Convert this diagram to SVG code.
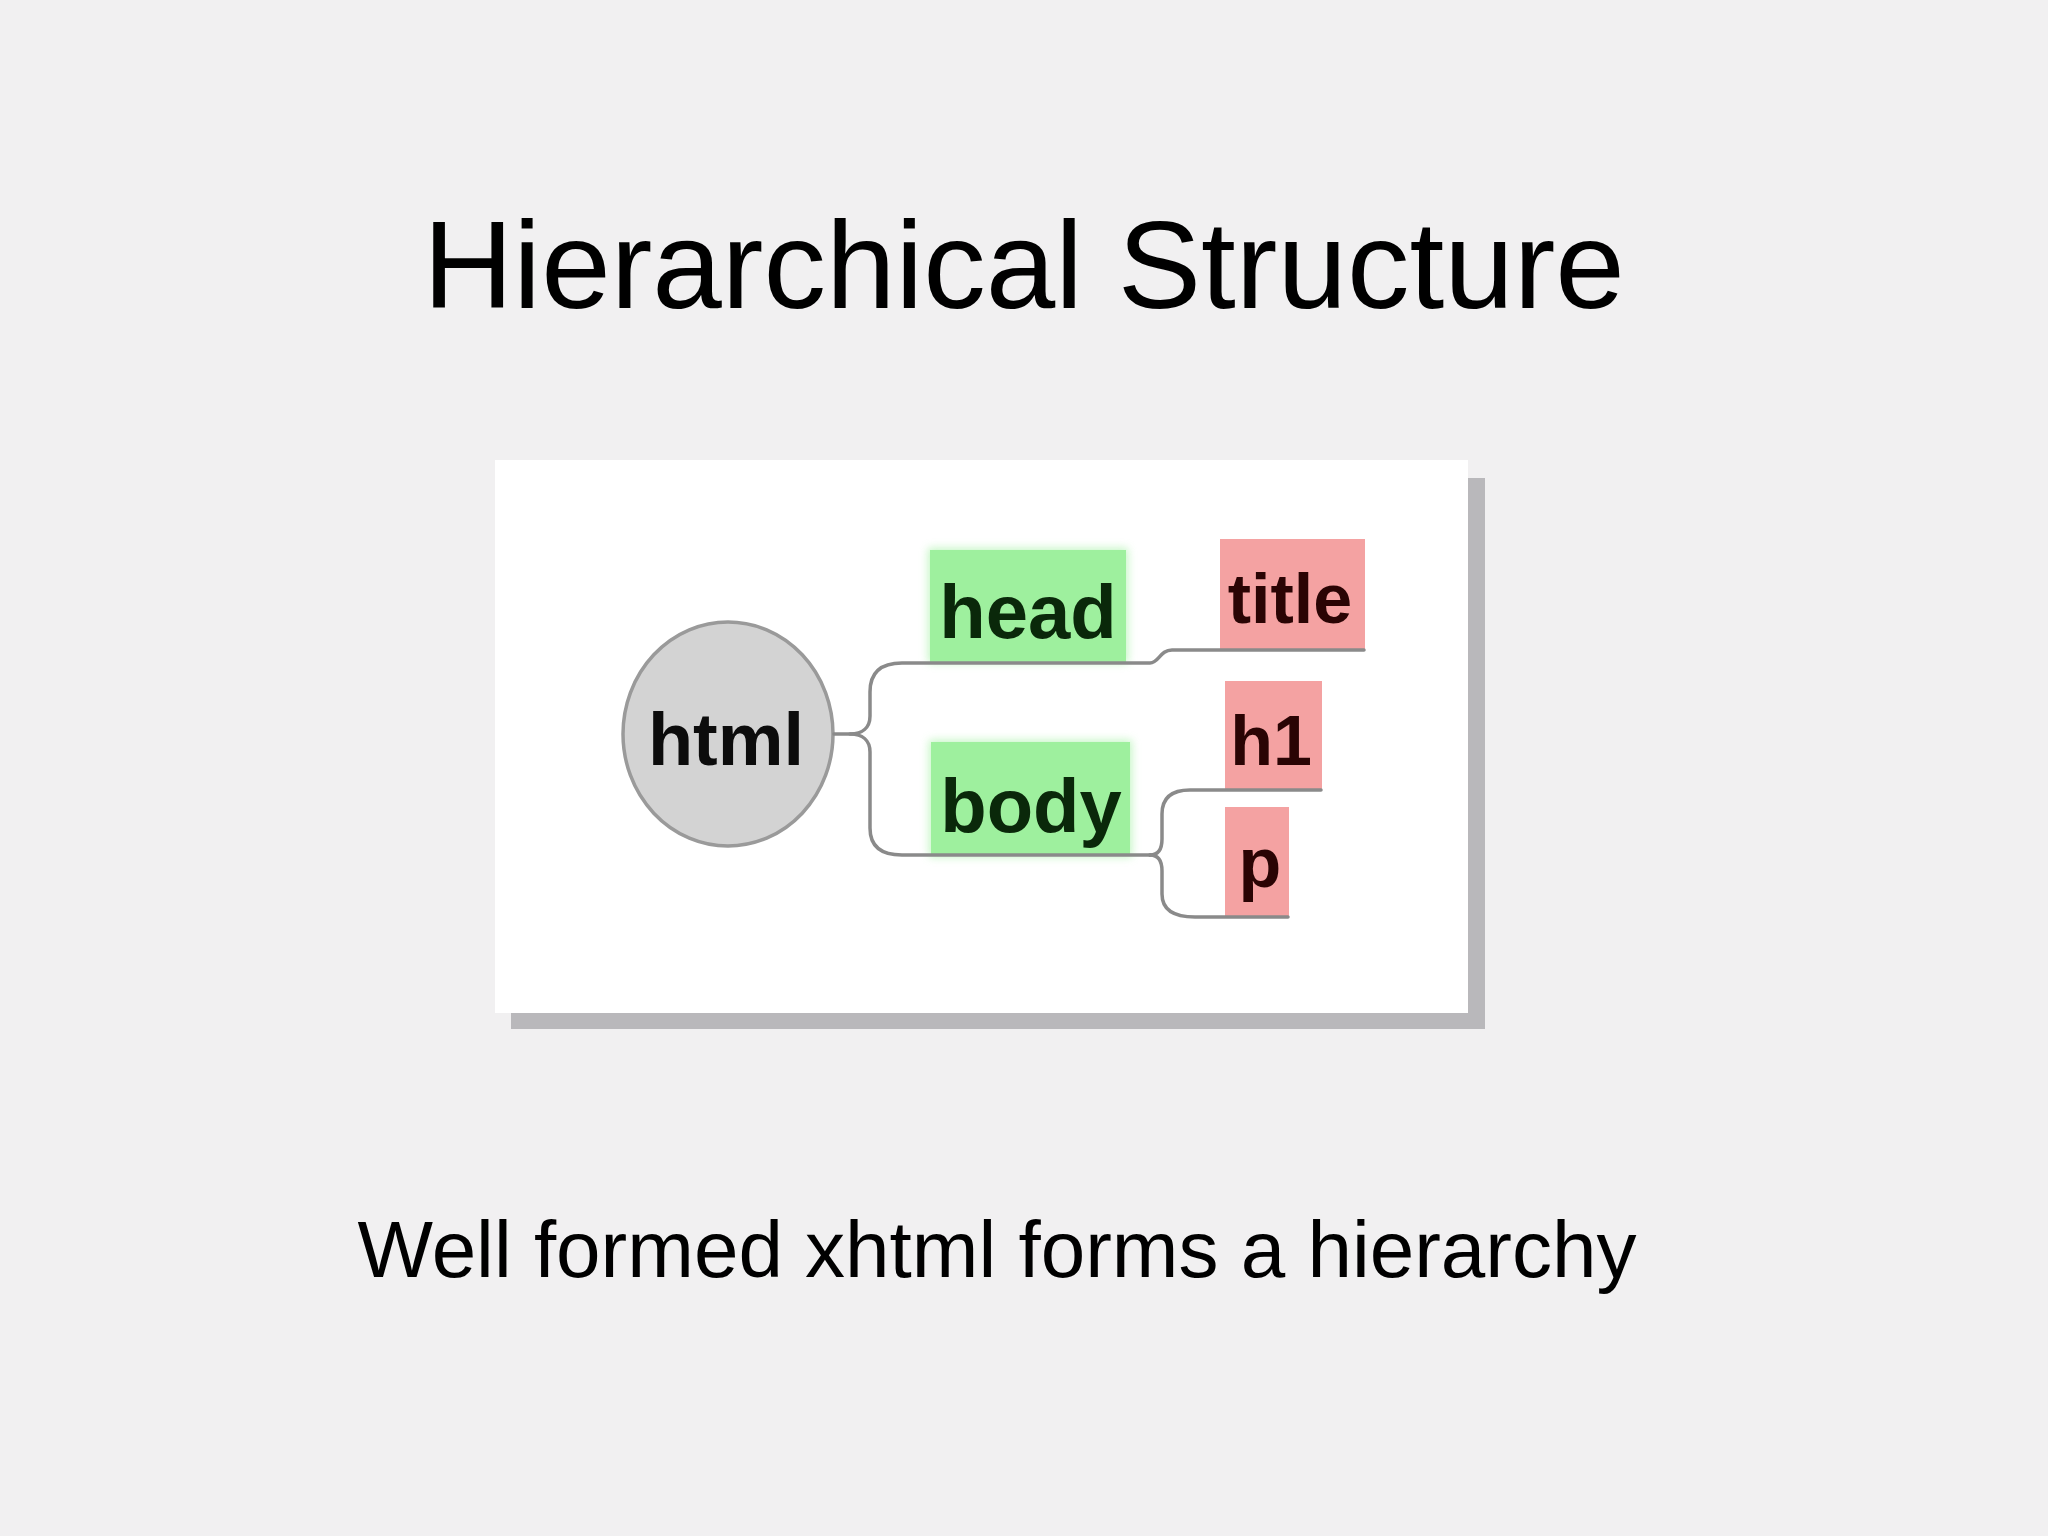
<svg xmlns="http://www.w3.org/2000/svg" width="2048" height="1536" viewBox="0 0 2048 1536">
  <defs>
    <style>
      .slide-title { font-family: "Liberation Sans", Arial, sans-serif; font-size: 125px; fill: #000; text-anchor: middle; }
      .caption { font-family: "Liberation Sans", Arial, sans-serif; font-size: 80px; fill: #000; text-anchor: middle; }
      .lbl { font-family: "Liberation Sans", Arial, sans-serif; font-weight: bold; text-anchor: middle; }
      .green { fill: #9ef09e; }
      .red { fill: #f4a2a2; }
      .gtxt { fill: #0a280a; font-size: 76px; }
      .rtxt { fill: #2a0404; font-size: 70px; }
      .conn { fill: none; stroke: #8a8a8a; stroke-width: 3.5; stroke-linejoin: round; stroke-linecap: round; }
    </style>
    <filter id="glow" x="-20%" y="-20%" width="140%" height="140%">
      <feGaussianBlur stdDeviation="4"/>
    </filter>
  </defs>

  <rect x="0" y="0" width="2048" height="1536" fill="#f1f0f1"/>

  <text class="slide-title" x="1024" y="308">Hierarchical Structure</text>

  <!-- picture frame -->
  <rect x="511" y="478" width="974" height="551" fill="#b9b8bb"/>
  <rect x="495" y="460" width="973" height="553" fill="#ffffff"/>

  <!-- html -->
  <g id="node-html">
    <ellipse cx="728" cy="734" rx="105" ry="112" fill="#d3d3d3" stroke="#9a9a9a" stroke-width="3.5"/>
    <text class="lbl" x="726" y="765" font-size="74" fill="#0c0c0c">html</text>
  </g>

  <!-- head -->
  <g id="node-head">
    <rect x="928" y="548" width="200" height="115" class="green" opacity="0.6" filter="url(#glow)"/>
    <rect x="930" y="550" width="196" height="113" class="green"/>
    <text class="lbl gtxt" x="1028" y="638">head</text>
  </g>

  <!-- body -->
  <g id="node-body">
    <rect x="929" y="740" width="203" height="117" class="green" opacity="0.6" filter="url(#glow)"/>
    <rect x="931" y="742" width="199" height="113" class="green"/>
    <text class="lbl gtxt" x="1031" y="832">body</text>
  </g>

  <!-- title -->
  <g id="node-title">
    <rect x="1220" y="539" width="145" height="111" class="red"/>
    <text class="lbl rtxt" x="1290" y="623">title</text>
  </g>

  <!-- h1 -->
  <g id="node-h1">
    <rect x="1225" y="681" width="97" height="110" class="red"/>
    <text class="lbl rtxt" x="1271" y="765">h1</text>
  </g>

  <!-- p -->
  <g id="node-p">
    <rect x="1225" y="807" width="64" height="110" class="red"/>
    <text class="lbl rtxt" x="1260" y="887" font-size="68">p</text>
  </g>

  <!-- connectors -->
  <g id="connectors">
    <path class="conn" d="M 834 734 H 850 C 862 734, 870 728, 870 716 V 692 Q 870 663, 902 663 H 1150 C 1159 663, 1160 650, 1172 650 H 1364"/>
    <path class="conn" d="M 850 734 C 862 734, 870 740, 870 752 V 828 Q 870 855, 902 855 H 1150"/>
    <path class="conn" d="M 1150 855 C 1158 855, 1162 849, 1162 839 V 814 Q 1162 790, 1190 790 H 1321"/>
    <path class="conn" d="M 1150 855 C 1158 855, 1162 861, 1162 871 V 894 Q 1162 917, 1195 917 H 1288"/>
  </g>

  <text class="caption" x="997" y="1277">Well formed xhtml forms a hierarchy</text>
</svg>
